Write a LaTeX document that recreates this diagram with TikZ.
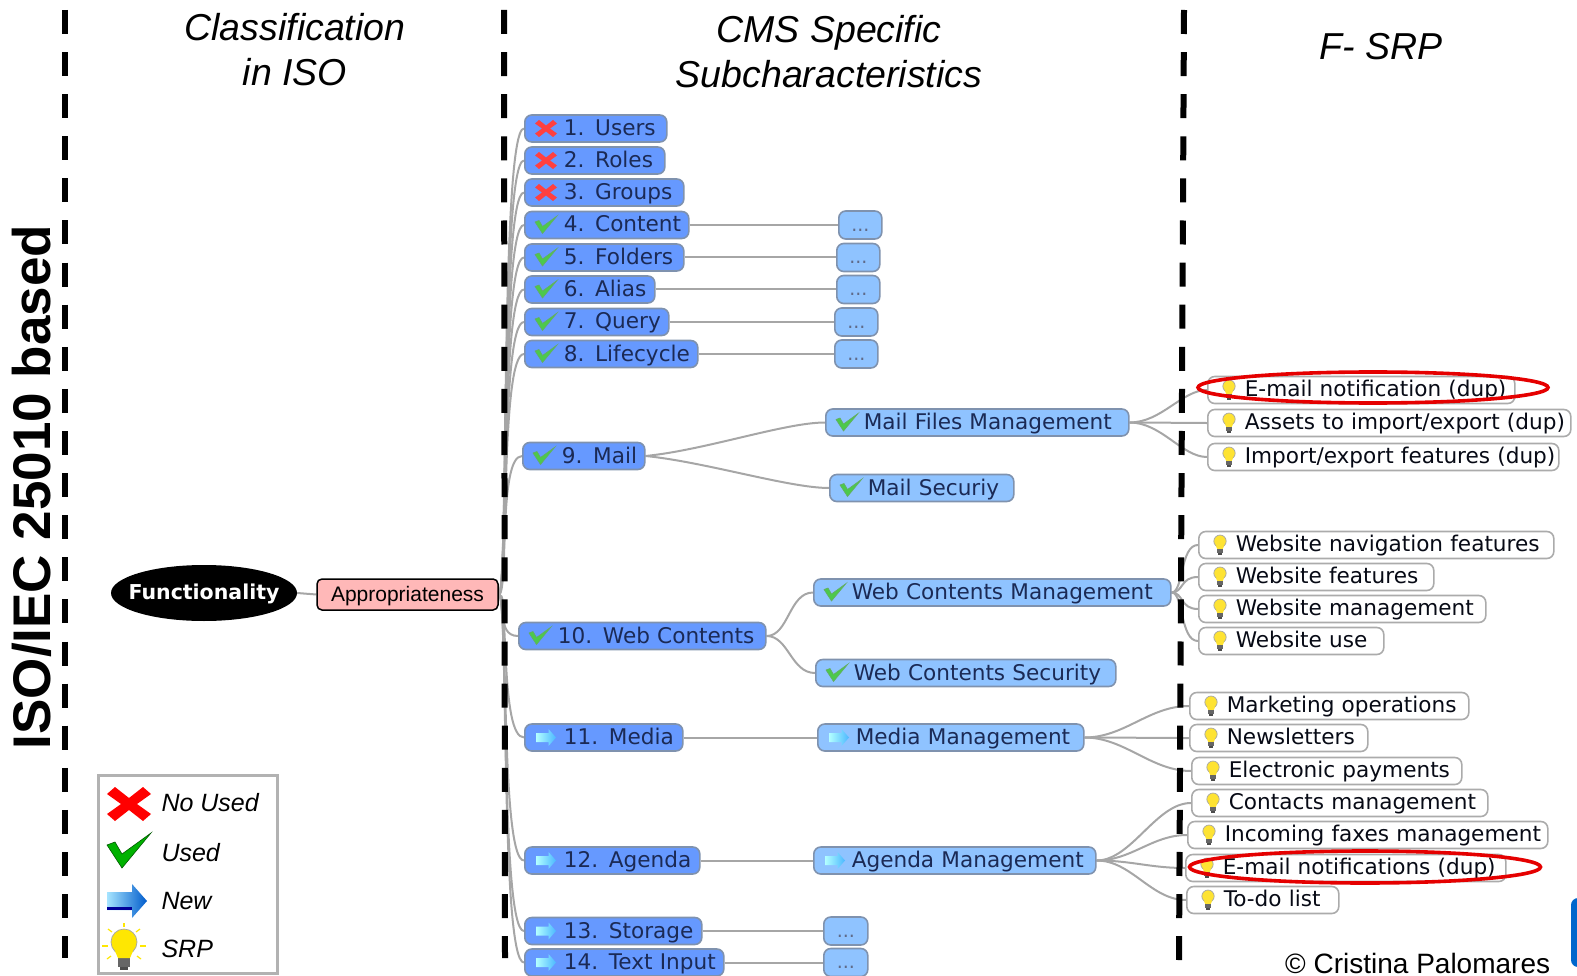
\documentclass[tikz,border=0pt]{standalone}
\usepackage{fontspec}
\setmainfont[WordSpace=0.75]{DejaVu Sans}
\newfontfamily\arialf{Liberation Sans}
\usetikzlibrary{shapes.geometric,backgrounds}
\definecolor{navy}{HTML}{1B2A55}
\definecolor{topblue}{HTML}{6699FF}
\definecolor{subblue}{HTML}{8FC3FF}
\definecolor{edgeblue}{HTML}{7F92AE}
\definecolor{linkgray}{HTML}{A6A6A6}
\definecolor{leafgray}{HTML}{ABABAB}
\tikzset{
  basebox/.style={rectangle,rounded corners=7pt,line width=1.6pt,minimum height=27pt,inner xsep=2pt,inner ysep=0pt,anchor=west,text=navy,font=\fontsize{21.6}{25}\selectfont},
  topbox/.style={basebox,fill=topblue,draw=edgeblue},
  subbox/.style={basebox,fill=subblue,draw=edgeblue},
  leafbox/.style={basebox,fill=white,draw=leafgray,text=black!75!navy},
  dotsbox/.style={rectangle,rounded corners=7pt,line width=1.6pt,minimum height=28pt,inner sep=0pt,anchor=west,fill=subblue,draw=edgeblue,text=navy!70,font=\fontsize{19}{22}\selectfont},
  link/.style={draw=linkgray,line width=2pt},
  divider/.style={line width=6pt,black,dash pattern=on 24pt off 18.1pt},
  ringmark/.style={ellipse,draw=red!90!black,line width=3.6pt,inner sep=0pt},
  titletext/.style={font=\arialf\itshape\fontsize{37.5}{44.5}\selectfont,align=center,text=black},
  legendtext/.style={font=\arialf\itshape\fontsize{25}{30}\selectfont,anchor=west,text=black},
}
\newcommand{\IconX}[1]{\fill[#1] (-22,-10)--(-14,-17)--(0,-6)--(14,-17)--(22,-10)--(8,0)--(22,10)--(14,17)--(0,6)--(-14,17)--(-22,10)--(-8,0)--cycle;}
\newcommand{\IconCheck}[2]{\fill[#1,draw=#2,line width=.6pt] (-22,-6)--(-14,-9)--(-7,3)--(22,-18)--(-7,17)--cycle;}
\newcommand{\IconArrow}[2]{\path[left color=#1,right color=#2] (-20,-9)--(5,-9)--(5,-17)--(20,0)--(5,17)--(5,9)--(-20,9)--cycle;}
\newcommand{\IconBulb}[1]{%
  \fill[gray!80!black] (-6,9) rectangle (6,19);
  \fill[gray!60!black] (-4,19) rectangle (4,22);
  \filldraw[fill=#1,draw=gray!70,line width=.7pt] (0,-6) circle[radius=13];
  \fill[#1] (-9,3)--(9,3)--(6,10)--(-6,10)--cycle;
}
\newcommand{\icon}[4]{%
  \begin{scope}[shift={(#2,#3)},scale=.5]
  \ifcase#1\relax
    \IconX{#4}\or
    \IconCheck{#4}{green!45!black!60}\or
    \IconArrow{white!70!cyan}{#4}\or
    \begin{scope}[scale=.95,shift={(0,-2)}]\IconBulb{yellow!80!orange!80!white}\end{scope}
  \fi
  \end{scope}}
\newcommand{\txtoff}{37pt}
\newcommand{\txtdrop}{-2pt}
% name, style, left, right, centre y, icon number, icon colour, text
\newcommand{\mapnode}[8]{%
  \pgfmathsetmacro{\boxtw}{#4-#3-4}%
  \node[#2,text width=\boxtw pt] (#1) at (#3,#5) {\strut\hspace*{\txtoff}\raisebox{\txtdrop}{#8}};
  \pgfmathsetmacro{\iconx}{#3+22}%
  \icon{#6}{\iconx}{#5}{#7}}
\newcommand{\dotsnode}[4]{%
  \pgfmathsetmacro{\boxtw}{#3-#2}%
  \node[dotsbox,minimum width=\boxtw pt] (#1) at (#2,#4) {\strut\raisebox{-2pt}{...}};}
\begin{document}
\begin{tikzpicture}[x=1pt,y=-1pt]
\useasboundingbox (0,0) rectangle (1577,976);
\clip (0,0) rectangle (1577,976);

% titles
\node[titletext] (t1) at (295,49.5) {Classification\\in ISO};
\node[titletext] (t2) at (829,51.5) {CMS Specific\\Subcharacteristics};
\node[titletext] (t3) at (1381,47) {F- SRP};
\node[font=\arialf\bfseries\fontsize{53}{60}\selectfont,rotate=90] (t4) at (32,487) {ISO/IEC 25010 based};

% root
\node[ellipse,fill=black,text=white,minimum width=186pt,minimum height=56pt,inner xsep=-10pt,inner ysep=0pt,font=\bfseries\fontsize{20.5}{24}\selectfont] (func) at (204,593) {\strut\raisebox{-2pt}{Functionality}};
\node[rectangle,rounded corners=5pt,draw=black,line width=1.5pt,fill=red!28,minimum width=181pt,minimum height=31pt,inner sep=0pt,font=\arialf\fontsize{21}{25}\selectfont] (appr) at (407.5,594.5) {\strut\raisebox{-2pt}{Appropriateness}};

% first level
\mapnode{n1}{topbox}{524}{666}{128.5}{0}{red!75!white}{1. Users}
\mapnode{n2}{topbox}{524}{664}{160.5}{0}{red!75!white}{2. Roles}
\mapnode{n3}{topbox}{524}{683}{192.5}{0}{red!75!white}{3. Groups}
\mapnode{n4}{topbox}{524}{688}{225}{1}{green!70!black!70!white}{4. Content}
\mapnode{n5}{topbox}{524}{683}{257.5}{1}{green!70!black!70!white}{5. Folders}
\mapnode{n6}{topbox}{524}{654}{289.5}{1}{green!70!black!70!white}{6. Alias}
\mapnode{n7}{topbox}{524}{668}{322}{1}{green!70!black!70!white}{7. Query}
\mapnode{n8}{topbox}{524}{697}{354}{1}{green!70!black!70!white}{8. Lifecycle}
\mapnode{n9}{topbox}{522}{644}{456}{1}{green!70!black!70!white}{9. Mail}
\mapnode{n10}{topbox}{518}{765}{636}{1}{green!70!black!70!white}{10. Web Contents}
\mapnode{n11}{topbox}{524}{682}{737.5}{2}{blue!40!cyan!70!white}{11. Media}
\mapnode{n12}{topbox}{524}{699}{860.5}{2}{blue!40!cyan!70!white}{12. Agenda}
\mapnode{n13}{topbox}{524}{701}{931}{2}{blue!40!cyan!70!white}{13. Storage}
\mapnode{n14}{topbox}{524}{723}{962.5}{2}{blue!40!cyan!70!white}{14. Text Input}

% dots
\dotsnode{d4}{838}{881}{225}
\dotsnode{d5}{836}{879}{257.5}
\dotsnode{d6}{836}{879}{289.5}
\dotsnode{d7}{834}{877}{322}
\dotsnode{d8}{834}{877}{354}
\dotsnode{d13}{823}{867}{931}
\dotsnode{d14}{823}{867}{962.5}

% second level
\renewcommand{\txtoff}{36pt}
\mapnode{m1}{subbox}{825}{1128}{422.5}{1}{green!70!black!70!white}{Mail Files Management}
\mapnode{m2}{subbox}{829}{1013}{488}{1}{green!70!black!70!white}{Mail Securiy}
\mapnode{w1}{subbox}{813}{1170}{592.5}{1}{green!70!black!70!white}{Web Contents Management}
\mapnode{w2}{subbox}{815}{1115}{673}{1}{green!70!black!70!white}{Web Contents Security}
\mapnode{me1}{subbox}{817}{1083}{737.5}{2}{blue!40!cyan!70!white}{Media Management}
\mapnode{a1}{subbox}{813}{1095}{860.5}{2}{blue!40!cyan!70!white}{Agenda Management}

% leaves
\renewcommand{\txtoff}{35pt}
\renewcommand{\txtdrop}{-1pt}
\mapnode{l1}{leafbox}{1207}{1514}{390}{3}{}{E-mail notification (dup)}
\mapnode{l2}{leafbox}{1207}{1570}{423}{3}{}{Assets to import/export (dup)}
\mapnode{l3}{leafbox}{1207}{1558}{457}{3}{}{Import/export features (dup)}
\mapnode{l4}{leafbox}{1198}{1553}{545}{3}{}{Website navigation features}
\mapnode{l5}{leafbox}{1198}{1433}{577}{3}{}{Website features}
\mapnode{l6}{leafbox}{1198}{1485}{609}{3}{}{Website management}
\mapnode{l7}{leafbox}{1198}{1383}{641}{3}{}{Website use}
\mapnode{l8}{leafbox}{1189}{1468}{706}{3}{}{Marketing operations}
\mapnode{l9}{leafbox}{1189}{1367}{738}{3}{}{Newsletters}
\mapnode{l10}{leafbox}{1191}{1461}{771}{3}{}{Electronic payments}
\mapnode{l11}{leafbox}{1191}{1487}{803}{3}{}{Contacts management}
\mapnode{l12}{leafbox}{1187}{1547}{835}{3}{}{Incoming faxes management}
\mapnode{l13}{leafbox}{1185}{1505}{868}{3}{}{E-mail notifications (dup)}
\mapnode{l14}{leafbox}{1186}{1338}{900}{3}{}{To-do list}

% connectors and dividers behind nodes
\begin{scope}[on background layer]
  \draw[link] (func.east) -- (appr.west);
  \foreach \t in {n1,n2,n3,n4,n5,n6,n7,n8,n9,n10,n11,n12,n13,n14}
    \draw[link] (appr.east) .. controls +(10,0) and +(-24,0) .. (\t.west);
  \foreach \a/\b in {n4/d4,n5/d5,n6/d6,n7/d7,n8/d8,n13/d13,n14/d14,n11/me1,n12/a1}
    \draw[link] (\a.east) -- (\b.west);
  \draw[link] (n9.east) .. controls +(60,-6) and +(-40,0) .. (m1.west);
  \draw[link] (n9.east) .. controls +(60,6) and +(-40,0) .. (m2.west);
  \foreach \b in {w1,w2}
    \draw[link] (n10.east) .. controls +(22,0) and +(-24,0) .. (\b.west);
  \foreach \b in {l1,l2,l3}
    \draw[link] (m1.east) .. controls +(32,0) and +(-25,0) .. (\b.west);
  \foreach \b in {l4,l5,l6,l7}
    \draw[link] (w1.east) .. controls +(12,0) and +(-18,0) .. (\b.west);
  \foreach \b in {l8,l9,l10}
    \draw[link] (me1.east) .. controls +(40,0) and +(-40,0) .. (\b.west);
  \foreach \b in {l11,l12,l13,l14}
    \draw[link] (a1.east) .. controls +(35,0) and +(-35,0) .. (\b.west);
  \draw[divider] (64.5,10) -- (64.5,958);
  \draw[divider] (504,10) -- (505,958);
  \draw[divider] (1184,10) -- (1179,960);
\end{scope}

% red marks
\node[ringmark,minimum width=350pt,minimum height=31pt] (r1) at (1373,387.5) {};
\node[ringmark,minimum width=351pt,minimum height=32pt] (r2) at (1365,867) {};

% legend
\node[rectangle,draw=gray!60,line width=3pt,fill=white,minimum width=179pt,minimum height=198pt,inner sep=0pt] (legend) at (187.5,874) {};
\begin{scope}[shift={(129,804)}]\IconX{red}\end{scope}
\begin{scope}[shift={(129,851)}]\IconCheck{green!70!black}{green!35!black}\end{scope}
\begin{scope}[shift={(127,901)}]
  \IconArrow{blue!30!cyan!35}{blue!55!cyan!80!black}
  \fill[blue!60!black] (-20,6)--(5,6)--(5,9)--(-20,9)--cycle;
\end{scope}
\begin{scope}[shift={(124,948)}]
  \IconBulb{yellow!90!orange}
  \foreach \xa/\ya/\xb/\yb in {0/-25/0/-21, -16/-19/-12/-16, 16/-19/12/-16, -22/-2/-16/-2, 22/-2/16/-2, -17/11/-13/8, 17/11/13/8}
    \draw[yellow!90!orange,line width=1.2pt] (\xa,\ya) -- (\xb,\yb);
\end{scope}
\node[legendtext] (lg1) at (158,803) {No Used};
\node[legendtext] (lg2) at (158,853) {Used};
\node[legendtext] (lg3) at (158,901) {New};
\node[legendtext] (lg4) at (158,949) {SRP};

% copyright and edge shape
\node[font=\arialf\fontsize{28}{32}\selectfont,anchor=base west,inner sep=0pt] (copy) at (1285,973) {© Cristina Palomares};
\fill[blue!50!cyan!80!black,rounded corners=7pt] (1571,898) rectangle (1600,967);
\end{tikzpicture}
\end{document}
